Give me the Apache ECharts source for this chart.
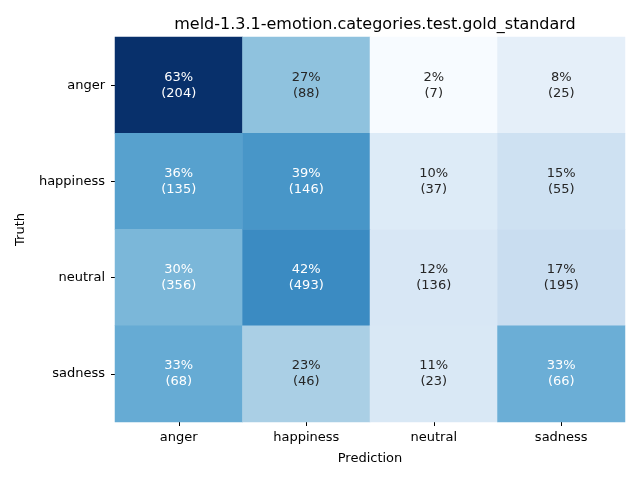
<!DOCTYPE html>
<html><head><meta charset="utf-8">
<script src="https://cdn.jsdelivr.net/npm/echarts@6/dist/echarts.min.js"></script>
<style>html,body{margin:0;padding:0;background:#fff}#c{width:640px;height:480px}</style>
</head><body><div id="c"></div>
<script>
const titleText = "meld-1.3.1-emotion.categories.test.gold_standard";
const truthLabels = ["anger", "happiness", "neutral", "sadness"];
const predLabels = ["anger", "happiness", "neutral", "sadness"];
// counts per truth row (columns = predictions)
const countsAnger = [204, 88, 7, 25];
const countsHappiness = [135, 146, 37, 55];
const countsNeutral = [356, 493, 136, 195];
const countsSadness = [68, 46, 23, 66];
const counts = [countsAnger, countsHappiness, countsNeutral, countsSadness];

const blues = ['#f7fbff','#deebf7','#c6dbef','#9ecae1','#6baed6','#4292c6','#2171b5','#08519c','#08306b'];

const data = [];
let vmin = Infinity, vmax = -Infinity;
counts.forEach((row, r) => {
  const tot = row.reduce((a, b) => a + b, 0);
  row.forEach((c, k) => {
    const p = c / tot;
    vmin = Math.min(vmin, p); vmax = Math.max(vmax, p);
    data.push({ value: [k, r, p], count: c });
  });
});
data.forEach(d => {
  const t = (d.value[2] - vmin) / (vmax - vmin);
  d.label = { color: t > 0.44 ? '#ffffff' : '#262626' };
});

const font = 'DejaVu Sans';
const chart = echarts.init(document.getElementById('c'), null, { renderer: 'canvas' });
chart.setOption({
  animation: false,
  backgroundColor: '#fff',
  title: {
    text: titleText, left: 370, top: 12, textAlign: 'center',
    textStyle: { fontFamily: font, fontSize: 16, fontWeight: 'normal', color: '#000' }
  },
  grid: { left: 115, right: 15, top: 37, bottom: 58 },
  xAxis: {
    type: 'category', data: predLabels, name: 'Prediction', nameLocation: 'middle', nameGap: 30,
    nameTextStyle: { fontFamily: font, fontSize: 13, color: '#000' },
    axisLine: { show: false },
    axisTick: { show: true, alignWithLabel: true, length: 4, lineStyle: { color: '#000', width: 1 } },
    axisLabel: { fontFamily: font, fontSize: 13, color: '#000', margin: 9 },
    splitLine: { show: false }
  },
  yAxis: {
    type: 'category', data: truthLabels, inverse: true, name: 'Truth', nameLocation: 'middle', nameGap: 88,
    nameRotate: 90,
    nameTextStyle: { fontFamily: font, fontSize: 13, color: '#000' },
    axisLine: { show: false },
    axisTick: { show: true, alignWithLabel: true, length: 4, lineStyle: { color: '#000', width: 1 } },
    axisLabel: { fontFamily: font, fontSize: 13, color: '#000', margin: 10 },
    splitLine: { show: false }
  },
  visualMap: {
    show: false, type: 'continuous', dimension: 2, min: vmin, max: vmax,
    inRange: { color: blues }
  },
  series: [{
    type: 'heatmap',
    data: data,
    itemStyle: { borderWidth: 0 },
    label: {
      show: true, fontFamily: font, fontSize: 13, lineHeight: 16,
      formatter: p => Math.round(p.value[2] * 100) + '%\n(' + p.data.count + ')'
    }
  }]
});
</script></body></html>
